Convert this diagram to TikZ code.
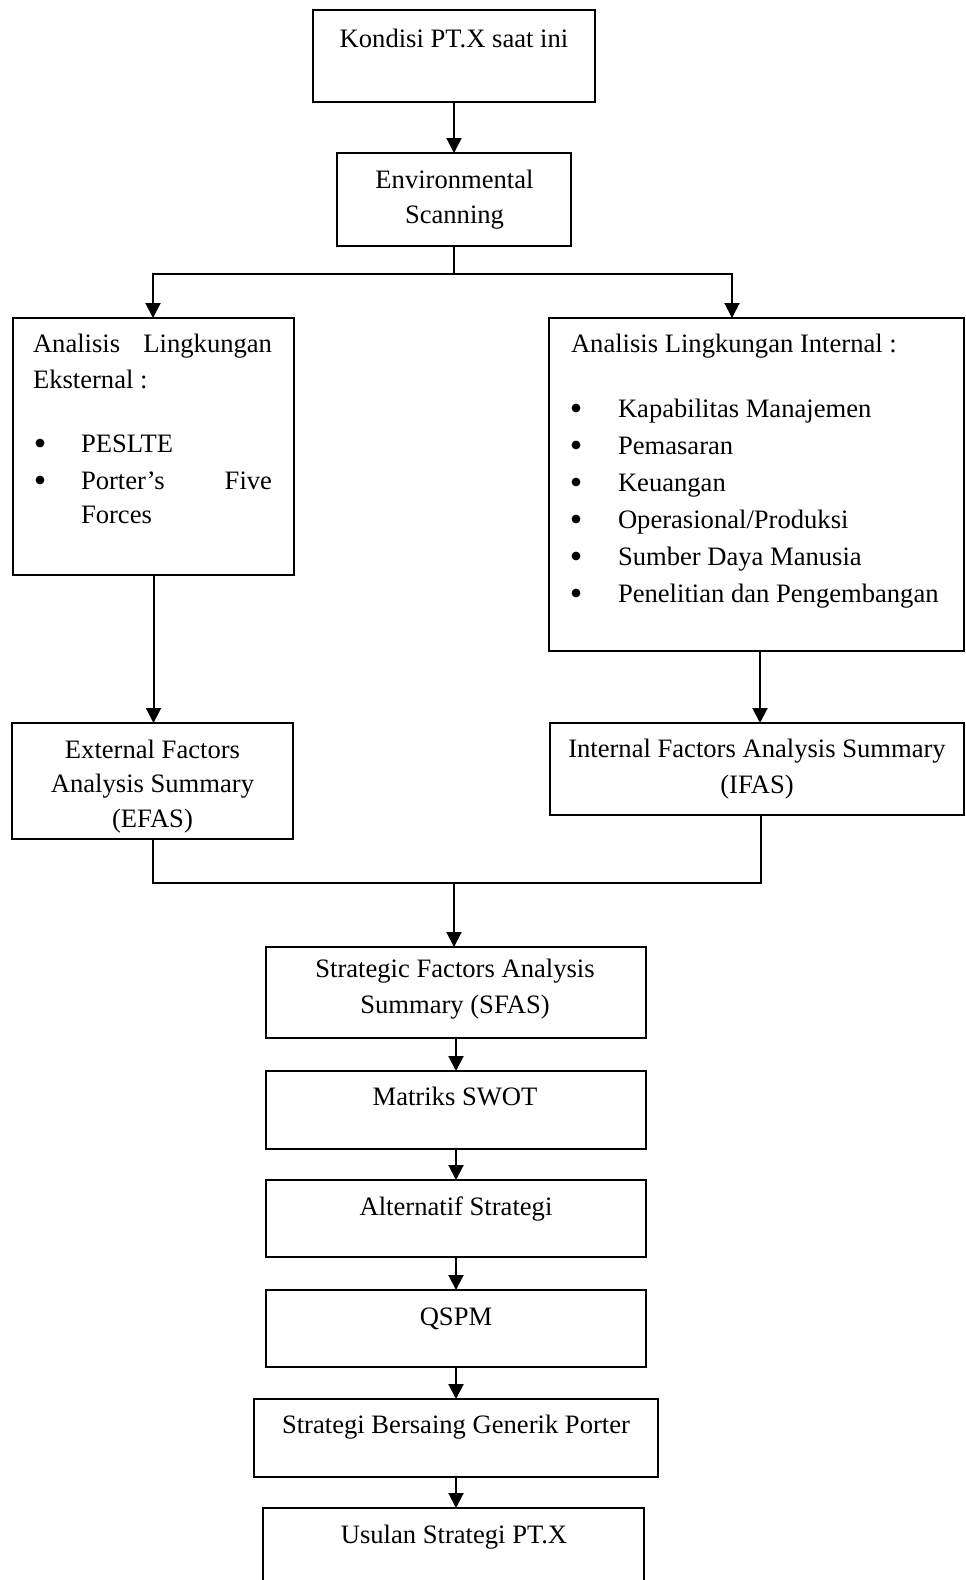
\documentclass[tikz,border=0pt]{standalone}
\usepackage{fontspec}
\setmainfont{Liberation Serif}
\usetikzlibrary{arrows.meta}
\begin{document}
\begin{tikzpicture}[x=0.5pt,y=-0.5pt,
  box/.style={draw=black, line width=1pt, inner sep=0pt, outer sep=0pt},
  arr/.style={line width=1pt, -{Triangle[width=7.5pt,length=7.5pt]}},
  ln/.style={line width=1pt},
  dot/.style={circle, fill=black, inner sep=0pt, minimum size=4.4pt},
  txt/.style={inner sep=0pt, outer sep=0pt, font=\fontsize{13.3}{18.6}\selectfont},
  tc/.style={txt, anchor=base},
  tl/.style={txt, anchor=base west},
  tr/.style={txt, anchor=base east}]
\clip (0,0) rectangle (965,1580);
% boxes
\node[box, minimum width=141pt, minimum height=46pt] (b1) at (454,56) {};
\node[box, minimum width=117pt, minimum height=46.5pt] (b2) at (454,199.5) {};
\node[box, minimum width=140.5pt, minimum height=128.5pt] (ext) at (153.5,446.5) {};
\node[box, minimum width=207.5pt, minimum height=166.5pt] (int) at (756.5,484.5) {};
\node[box, minimum width=140.5pt, minimum height=58pt] (efas) at (152.5,781) {};
\node[box, minimum width=207pt, minimum height=46pt] (ifas) at (757,769) {};
\node[box, minimum width=190pt, minimum height=45.5pt] (sfas) at (456,992.5) {};
\node[box, minimum width=190pt, minimum height=39pt] (swot) at (456,1110) {};
\node[box, minimum width=190pt, minimum height=38.5pt] (alt) at (456,1218.5) {};
\node[box, minimum width=190pt, minimum height=38.5pt] (qspm) at (456,1328.5) {};
\node[box, minimum width=202pt, minimum height=39pt] (sbgp) at (456,1438) {};
\node[box, minimum width=190.5pt, minimum height=56pt] (usul) at (453.5,1564) {};
% texts
\node[tc] (t1) at (454,47) {Kondisi PT.X saat ini};
\node[tc] (t2a) at (454.5,188) {Environmental};
\node[tc] (t2b) at (454.5,223) {Scanning};
\node[tl] (te1a) at (33,352) {Analisis};
\node[tr] (te1b) at (272,352) {Lingkungan};
\node[tl] (te2) at (33,388) {Eksternal :};
\node[dot] (te3b) at (40,443) {};
\node[tl] (te3) at (81,452) {PESLTE};
\node[dot] (te4b) at (40,480) {};
\node[tl] (te4a) at (81,489) {Porter’s};
\node[tr] (te4c) at (272,489) {Five};
\node[tl] (te5) at (81,523) {Forces};
\node[tl] (ti0) at (571,352) {Analisis Lingkungan Internal :};
\foreach \y/\t [count=\i] in {417/Kapabilitas Manajemen,454/Pemasaran,491/Keuangan,528/Operasional\slash Produksi,565/Sumber Daya Manusia,602/Penelitian dan Pengembangan}{
  \node[dot] (tib\i) at (576,\y-9) {};
  \node[tl] (ti\i) at (618,\y) {\t};
}
\node[tc] (tef1) at (152.5,758) {External Factors};
\node[tc] (tef2) at (152.5,792) {Analysis Summary};
\node[tc] (tef3) at (152.5,827) {(EFAS)};
\node[tc] (tif1) at (757,757) {Internal Factors Analysis Summary};
\node[tc] (tif2) at (757,793) {(IFAS)};
\node[tc] (tsf1) at (455,977) {Strategic Factors Analysis};
\node[tc] (tsf2) at (455,1013) {Summary (SFAS)};
\node[tc] (tsw) at (455,1105) {Matriks SWOT};
\node[tc] (tal) at (456,1215) {Alternatif Strategi};
\node[tc] (tqs) at (456,1325) {QSPM};
\node[tc] (tsb) at (456,1433) {Strategi Bersaing Generik Porter};
\node[tc] (tus) at (454,1543) {Usulan Strategi PT.X};
% connectors
\draw[arr] (b1.south) -- (b2.north);
\coordinate (sL) at (153,274);
\coordinate (sR) at (732,274);
\draw[ln] (b2.south) -- (b2.south |- sL);
\draw[line width=1pt, {Triangle[width=7.5pt,length=7.5pt]}-{Triangle[width=7.5pt,length=7.5pt]}]
  (sL |- ext.north) -- (sL) -- (sR) -- (sR |- int.north);
\draw[arr] (ext.south) -- (ext.south |- efas.north);
\draw[arr] ([xshift=1.75pt]int.south) -- ([xshift=1.75pt]int.south |- ifas.north);
\coordinate (jn) at (454,883);
\draw[ln] (efas.south) -- (efas.south |- jn) -- ([xshift=2pt]ifas.south |- jn) -- ([xshift=2pt]ifas.south);
\draw[arr] (jn) -- (jn |- sfas.north);
\draw[arr] (sfas.south) -- (swot.north);
\draw[arr] (swot.south) -- (alt.north);
\draw[arr] (alt.south) -- (qspm.north);
\draw[arr] (qspm.south) -- (sbgp.north);
\draw[arr] (sbgp.south) -- (sbgp.south |- usul.north);
\end{tikzpicture}
\end{document}
